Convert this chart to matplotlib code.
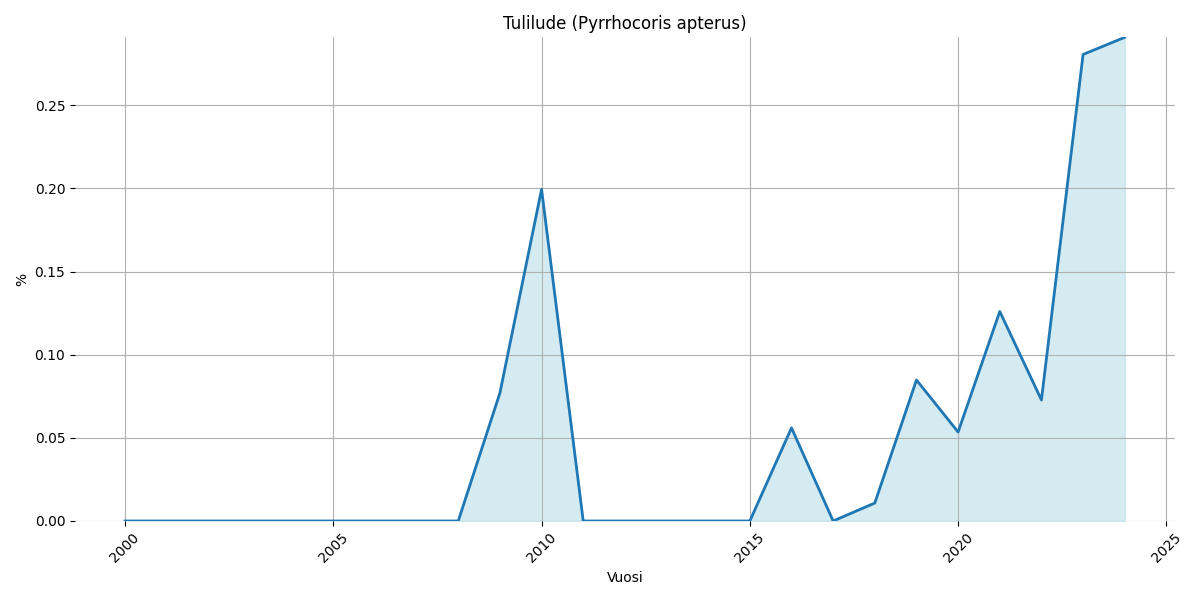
import matplotlib
matplotlib.use("Agg")
import matplotlib.pyplot as plt

years = list(range(2000, 2025))
values = [0, 0, 0, 0, 0, 0, 0, 0, 0, 0.077, 0.1995, 0,
          0, 0, 0, 0, 0.056, 0, 0.0108, 0.0848, 0.0535, 0.126,
          0.0728, 0.2806, 0.2909]

fig, ax = plt.subplots(figsize=(12, 6), dpi=100)
ax.fill_between(years, values, color="lightblue", alpha=0.5)
ax.plot(years, values, color="#1f77b4", linewidth=2)
ax.set_title("Tulilude (Pyrrhocoris apterus)")
ax.set_xlabel("Vuosi")
ax.set_ylabel("%")
ax.set_ylim(0, max(values))
ax.grid(True)
for s in ax.spines.values():
    s.set_visible(False)
plt.xticks(rotation=45)
plt.tight_layout()
plt.savefig("out.png")
